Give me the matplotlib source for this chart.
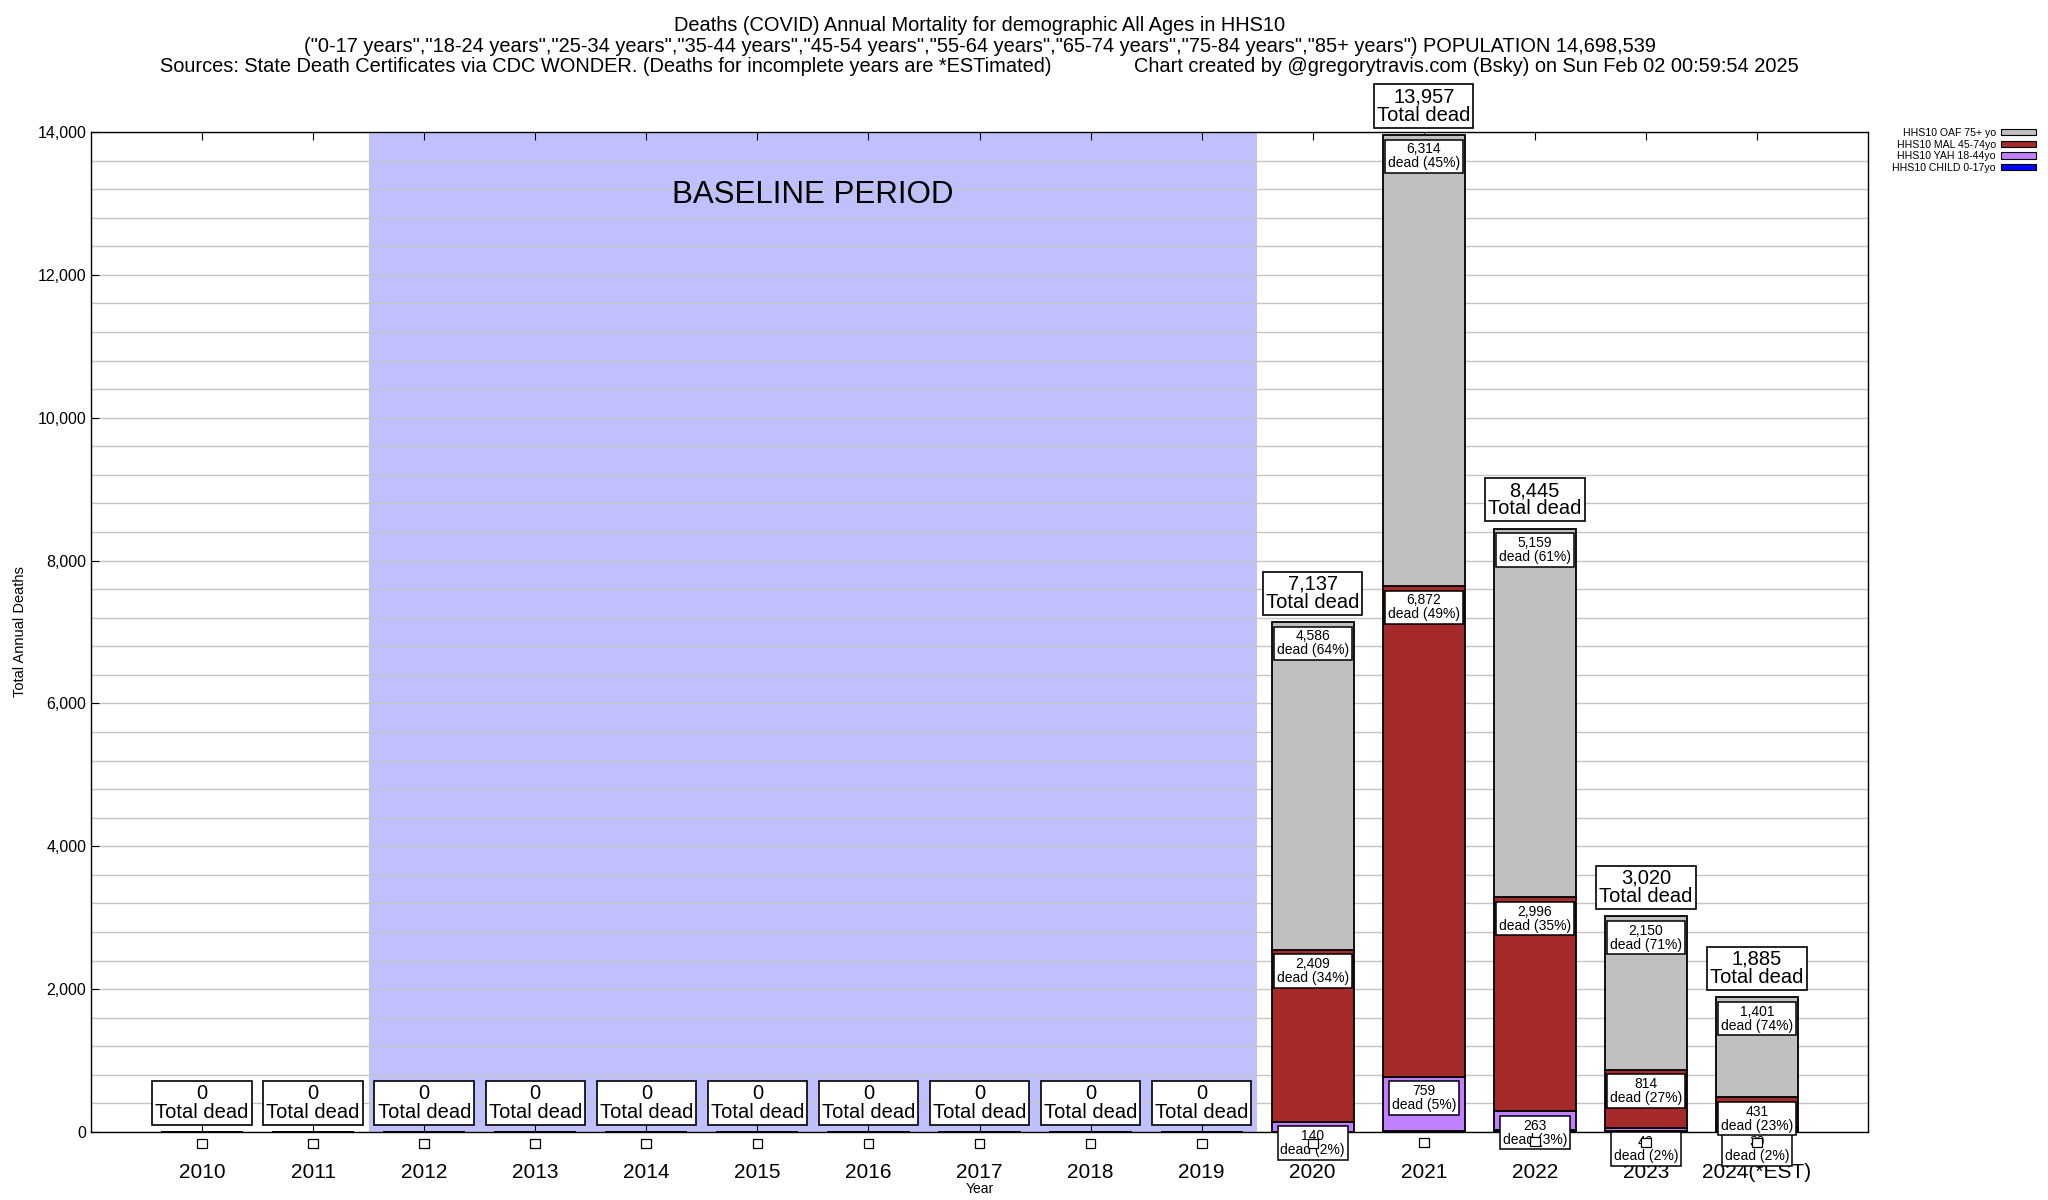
import matplotlib
matplotlib.use("Agg")
import matplotlib.pyplot as plt
from matplotlib.patches import Patch
from matplotlib.ticker import FuncFormatter, MultipleLocator
import numpy as np

plt.rcParams['font.family'] = ['Liberation Sans', 'DejaVu Sans']

years = [2010, 2011, 2012, 2013, 2014, 2015, 2016, 2017, 2018, 2019, 2020, 2021, 2022, 2023, 2024]
year_labels = ["2010", "2011", "2012", "2013", "2014", "2015", "2016", "2017",
               "2018", "2019", "2020", "2021", "2022", "2023", "2024(*EST)"]
child = [0, 0, 0, 0, 0, 0, 0, 0, 0, 0, 2, 12, 27, 10, 14]
yah = [0, 0, 0, 0, 0, 0, 0, 0, 0, 0, 140, 759, 263, 46, 39]
mal = [0, 0, 0, 0, 0, 0, 0, 0, 0, 0, 2409, 6872, 2996, 814, 431]
oaf = [0, 0, 0, 0, 0, 0, 0, 0, 0, 0, 4586, 6314, 5159, 2150, 1401]
baseline = (2011.5, 2019.5)

series_names = ["HHS10 CHILD 0-17yo", "HHS10 YAH 18-44yo", "HHS10 MAL 45-74yo", "HHS10 OAF 75+ yo"]
colors = ["#0000ff", "#c080ff", "#a52a2a", "#c0c0c0"]

title = ('Deaths (COVID) Annual Mortality for demographic All Ages in HHS10\n'
         '("0-17 years","18-24 years","25-34 years","35-44 years","45-54 years","55-64 years",'
         '"65-74 years","75-84 years","85+ years") POPULATION 14,698,539\n'
         'Sources: State Death Certificates via CDC WONDER. (Deaths for incomplete years are *ESTimated)'
         '               Chart created by @gregorytravis.com (Bsky) on Sun Feb 02 00:59:54 2025')

W, H = 2048, 1200
fig = plt.figure(figsize=(W / 100, H / 100), dpi=100)
ax = fig.add_axes([91 / W, 68 / H, 1777 / W, 1000 / H])

ax.axvspan(baseline[0], baseline[1], color="#c0c0ff", zorder=0, lw=0)
ax.text(np.mean(baseline), 13120, "BASELINE PERIOD", ha="center", va="center", fontsize=22.5, zorder=3)

stack = [np.array(child), np.array(yah), np.array(mal), np.array(oaf)]
x = np.array(years)
totals = sum(stack)
bottom = np.zeros(len(years))
width = 0.74
for vals, c in zip(stack, colors):
    ax.bar(x, vals, width, bottom=bottom, color=c, edgecolor="black", linewidth=1.3, zorder=2)
    bottom = bottom + vals

# segment labels (child labels are empty boxes)
bottom = np.zeros(len(years))
for k, vals in enumerate(stack):
    top = bottom + vals
    for i in range(len(years)):
        if k == 0:
            ax.annotate("00", (x[i], top[i]), xytext=(0, -6.5), textcoords="offset points",
                        ha="center", va="top", fontsize=3.6, color=(0, 0, 0, 0),
                        bbox=dict(boxstyle="square,pad=0.4", fc="white", ec="black", lw=0.9), zorder=7)
        elif totals[i] > 0:
            pct = 100.0 * vals[i] / totals[i]
            ax.annotate(f"{vals[i]:,}\ndead ({pct:.0f}%)", (x[i], top[i]), xytext=(0, -5.2),
                        textcoords="offset points", ha="center", va="top", fontsize=10,
                        linespacing=1.0,
                        bbox=dict(boxstyle="square,pad=0.2", fc="white", ec="black", lw=1.1), zorder=5)
    bottom = top

for i in range(len(years)):
    ax.annotate(f"{totals[i]:,}\nTotal dead", (x[i], totals[i]), xytext=(0, 7.5),
                textcoords="offset points", ha="center", va="bottom", fontsize=14.5,
                linespacing=0.95,
                bbox=dict(boxstyle="square,pad=0.15", fc="white", ec="black", lw=1.2), zorder=6)

ax.set_xlim(2009, 2025)
ax.set_ylim(0, 14000)
ax.set_xticks(years)
ax.set_xticklabels(year_labels, fontsize=15)
ax.yaxis.set_major_locator(MultipleLocator(2000))
ax.yaxis.set_minor_locator(MultipleLocator(400))
ax.yaxis.set_major_formatter(FuncFormatter(lambda v, p: f"{int(v):,}"))
ax.tick_params(axis="y", which="major", labelsize=11.5, direction="in", length=6)
ax.tick_params(axis="y", which="minor", length=0)
ax.tick_params(axis="x", direction="in", length=6, top=True, pad=22)
ax.grid(axis="y", which="both", color="#c4c4c4", lw=1.0, zorder=1)
ax.set_axisbelow(True)
for s in ax.spines.values():
    s.set_linewidth(1.0)

ax.set_ylabel("Total Annual Deaths", fontsize=10.5)
ax.yaxis.set_label_coords(-0.036, 0.5)
ax.set_xlabel("Year", fontsize=10, labelpad=0)
ax.set_title(title, fontsize=14.4, linespacing=1.1, pad=43)

handles = [Patch(facecolor=c, edgecolor="black", lw=0.8, label=n) for n, c in zip(series_names, colors)]
handles = handles[::-1]
fig.legend(handles=handles, loc="upper right", bbox_to_anchor=(2036 / W, 1 - 128 / H),
           frameon=False, markerfirst=False, fontsize=7.6, handlelength=3.3, handleheight=0.55,
           labelspacing=0.15, handletextpad=0.5, borderpad=0, borderaxespad=0)

fig.savefig("out.png", dpi=100)
